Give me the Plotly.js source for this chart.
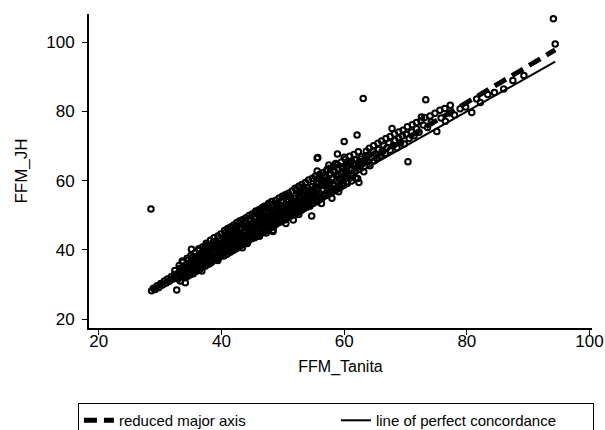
<!DOCTYPE html>
<html>
<head>
<meta charset="utf-8">
<script src="https://cdn.plot.ly/plotly-3.0.1.min.js"></script>
<style>html,body{margin:0;padding:0;background:#fff;}#chart{width:605px;height:430px;}</style>
</head>
<body>
<div id="chart"></div>
<script>
// FFM_Tanita (x) and FFM_JH (y)
const tanita = [
28.6,28.9,29.2,29.5,29.8,30.1,30.4,30.7,31.0,31.2,31.5,31.8,32.0,32.3,32.6,
32.4,32.8,33.0,33.2,33.4,33.6,33.8,34.0,34.1,34.3,34.5,34.7,34.9,35.0,35.2,35.3,35.5,35.6,35.8,35.9,33.1,34.6,35.4,32.9,34.2,35.7,33.7,35.1,34.8,33.5,
32.7,34.1,35.1,37.4,28.5,
36.0,36.1,36.2,36.3,36.5,36.6,36.7,36.9,37.0,37.1,37.3,37.4,37.5,37.7,37.8,37.9,38.0,38.2,38.3,38.4,38.5,38.7,38.8,38.9,39.0,39.2,39.3,39.4,39.5,39.7,39.8,39.9,36.4,37.6,38.6,39.1,36.8,38.1,39.6,37.2,
40.0,40.1,40.2,40.3,40.4,40.5,40.6,40.7,40.8,40.9,41.0,41.1,41.2,41.3,41.4,41.5,41.6,41.7,41.8,41.9,42.0,42.1,42.2,42.3,42.4,42.5,42.6,42.7,42.8,42.9,43.0,43.1,43.2,43.3,43.4,43.5,43.6,43.7,43.8,43.9,44.0,44.1,44.2,44.3,44.4,44.5,44.6,44.7,44.8,44.9,40.6,41.8,42.6,43.4,44.2,
45.0,45.1,45.2,45.3,45.4,45.5,45.6,45.7,45.8,45.9,46.0,46.1,46.2,46.3,46.4,46.5,46.6,46.7,46.8,46.9,47.0,47.1,47.2,47.3,47.4,47.5,47.6,47.7,47.8,47.9,48.0,48.1,48.2,48.3,48.4,48.5,48.6,48.7,48.8,48.9,49.0,49.1,49.2,49.3,49.4,49.5,49.6,49.7,49.8,49.9,45.5,46.8,47.6,48.4,49.2,48.4,46.2,47.3,
50.0,50.1,50.2,50.3,50.4,50.5,50.6,50.7,50.8,50.9,51.0,51.1,51.2,51.3,51.4,51.5,51.6,51.7,51.8,51.9,52.0,52.1,52.2,52.3,52.4,52.5,52.6,52.7,52.8,52.9,53.0,53.1,53.2,53.3,53.4,53.5,53.6,53.7,53.8,53.9,54.0,54.1,54.2,54.3,54.4,54.5,54.6,54.7,54.8,54.9,51.0,52.2,53.4,50.5,52.6,
55.0,55.1,55.3,55.4,55.6,55.7,55.6,55.6,55.7,55.8,55.9,56.1,56.2,56.4,56.5,56.7,56.8,57.0,57.1,57.3,57.4,57.5,57.6,57.8,57.9,58.1,58.2,58.4,58.5,58.7,58.9,58.8,59.0,59.2,59.3,59.5,59.6,59.8,59.9,56.0,57.2,58.0,59.1,56.3,58.6,
60.0,60.0,60.1,60.3,60.4,60.6,60.8,61.0,61.1,61.3,61.5,61.7,61.8,62.0,62.1,62.2,62.4,62.4,62.6,62.8,63.0,63.1,63.2,63.4,63.6,63.8,64.0,64.2,64.4,64.7,64.9,
65.1,65.3,65.6,65.9,66.2,66.4,66.7,67.0,67.3,67.5,67.8,68.0,68.3,68.6,68.9,69.2,69.5,69.8,70.1,70.4,70.6,71.0,71.4,71.8,72.2,72.6,72.9,73.3,73.6,74.2,75.1,
75.8,76.5,77.2,78.0,78.9,79.8,80.8,81.6,82.2,83.4,84.5,86.0,87.5,89.3,94.1,94.4,
33.3,33.9,34.4,34.9,35.4,35.9,36.4,36.9,37.4,37.9,38.4,38.9,39.4,39.9,
33.6,34.4,35.0,35.7,36.3,36.9,37.5,38.2,38.8,39.4,39.9,
33.9,34.4,35.0,35.5,36.0,36.5,37.0,37.5,38.0,38.5,39.0,39.5,
40.4,40.9,41.4,41.9,42.4,42.9,43.4,43.9,44.4,44.9,45.4,45.9,46.4,46.9,47.4,47.9,48.4,48.9,49.4,49.9,
40.5,41.0,41.5,42.0,42.5,43.0,43.5,44.0,44.5,45.0,45.6,46.1,46.6,47.1,47.7,48.2,48.8,49.4,49.9,
40.3,41.0,41.7,42.4,43.1,43.8,44.6,45.3,46.0,46.8,47.5,48.2,49.0,49.7,
50.4,50.9,51.4,51.9,52.4,52.9,53.4,53.9,54.4,54.9,55.4,55.9,56.4,56.9,57.4,57.9,58.4,58.9,59.4,59.9,60.5,61.2,61.9,
50.4,50.9,51.5,52.0,52.6,53.1,53.7,54.2,54.8,55.3,55.9,56.5,57.1,57.7,58.3,58.9,59.5,60.2,60.9,61.6,62.3,
50.6,51.3,52.0,52.7,53.4,54.1,54.8,55.5,56.2,56.9,57.6,58.3,59.0,59.7,60.5,61.2,61.9,62.7,63.5,
64.1,64.8,65.5,66.1,66.8,67.5,68.2,68.9,69.6,70.3,71.1,71.8,72.5,73.1,74.0,74.8,75.6,76.4,77.3
];
const jh = [
28.2,28.9,28.5,29.6,29.1,30.3,29.8,31.0,30.4,31.6,30.9,32.2,31.5,32.9,31.8,
34.0,33.1,32.3,34.6,33.5,32.8,35.2,34.1,33.2,35.8,34.6,33.6,36.1,35.0,34.0,36.9,35.6,34.4,37.5,36.2,35.5,37.0,38.1,31.6,32.4,33.9,36.4,37.6,35.4,34.3,
28.4,30.5,40.2,40.9,51.8,
35.1,37.0,38.4,36.2,34.9,37.8,39.0,36.6,38.2,35.8,37.4,39.5,36.5,38.7,40.1,37.2,35.9,39.3,37.9,40.6,36.8,38.5,41.0,37.6,39.8,38.1,40.9,36.9,39.2,41.5,38.6,40.3,39.9,41.3,42.1,42.4,33.9,36.3,37.7,38.9,
39.4,41.8,40.5,38.9,42.6,41.1,39.7,43.3,40.2,42.0,41.3,39.9,43.9,42.5,40.8,44.4,41.9,40.4,43.1,42.2,44.8,41.5,43.6,40.9,42.8,45.3,43.9,41.7,44.5,43.0,45.8,42.4,44.1,46.4,43.4,41.9,45.0,44.0,46.9,42.9,45.5,47.7,44.3,43.1,46.2,45.0,47.4,43.8,46.5,45.3,44.9,45.6,47.1,40.6,41.8,
46.8,44.5,48.1,46.0,44.0,47.4,49.0,45.6,47.9,46.5,44.9,48.6,47.2,49.6,46.1,48.0,45.4,50.1,47.5,48.8,46.3,49.4,47.9,51.0,46.8,49.0,48.1,50.5,47.0,49.8,48.6,51.4,47.4,50.1,49.0,46.6,51.9,48.5,50.6,49.5,47.8,52.3,50.0,48.9,51.3,50.4,48.2,52.8,49.7,51.5,50.8,52.4,53.0,45.7,53.5,45.3,43.9,44.9,
51.1,49.2,52.6,50.5,48.7,53.1,51.8,49.9,52.2,54.0,50.7,52.9,51.4,49.8,54.5,52.0,50.6,48.6,53.6,51.7,55.0,52.5,50.9,54.1,53.0,51.3,55.6,53.5,52.0,54.8,53.2,51.6,56.1,54.0,52.4,55.3,53.7,57.0,54.5,52.8,55.8,54.2,56.6,53.1,55.0,57.3,54.0,49.8,56.2,55.1,55.6,57.2,58.1,47.6,50.2,
56.9,54.6,58.0,55.8,53.9,57.4,66.5,62.8,66.7,59.1,56.3,58.5,55.2,60.0,57.6,59.4,55.9,61.0,58.3,60.3,56.8,64.5,59.6,62.0,57.7,60.8,59.0,62.6,57.1,61.4,67.7,59.9,63.3,60.4,58.3,62.1,60.9,64.0,58.9,61.8,63.2,54.9,56.8,53.4,65.0,
71.3,66.8,61.5,63.6,59.7,62.4,65.2,60.8,63.0,61.9,64.8,62.7,66.0,63.7,73.2,60.6,59.5,65.3,64.1,67.0,64.9,83.8,62.6,66.2,68.5,65.5,67.4,64.3,66.7,68.6,65.8,
67.8,66.4,69.0,67.3,68.5,70.3,67.9,69.6,70.9,68.8,75.1,70.2,71.6,69.5,72.3,71.0,72.9,70.6,73.4,65.5,72.2,74.1,73.0,75.0,74.0,78.4,76.1,83.4,75.4,77.0,74.2,
78.1,77.2,79.6,79.0,80.8,81.3,79.7,83.6,82.6,84.9,85.5,86.5,89.0,90.4,106.8,99.5,
31.0,31.9,32.3,32.8,33.1,33.8,34.2,35.0,35.3,36.1,36.4,37.2,37.6,38.3,
36.8,37.6,38.4,39.1,40.3,40.8,41.9,42.8,43.5,44.0,44.6,
34.8,35.3,36.3,37.0,37.6,38.0,39.6,40.4,39.0,41.4,40.6,41.9,
38.2,38.7,39.3,39.8,40.3,41.0,41.5,42.1,42.6,43.2,43.5,44.1,44.7,45.3,45.6,46.3,46.8,47.4,47.9,48.4,
45.6,46.2,46.6,47.2,47.9,48.4,48.8,49.3,49.9,50.4,51.2,51.6,52.1,52.7,53.5,54.0,54.3,55.0,55.5,
43.7,44.6,45.1,46.3,47.3,48.0,48.5,49.4,50.4,51.1,51.9,52.8,53.2,54.1,
48.9,49.4,50.0,50.2,50.8,51.3,51.9,52.3,52.6,53.4,54.0,54.4,55.0,55.6,56.0,56.5,57.2,57.6,58.1,58.6,59.2,59.9,60.8,
55.9,56.4,57.0,57.8,58.4,58.9,59.5,60.2,60.7,61.3,61.0,62.3,62.7,63.6,64.1,64.6,65.3,66.2,67.1,67.6,68.4,
54.3,55.0,53.7,56.6,57.0,57.9,58.3,59.4,60.6,60.1,61.7,62.9,61.9,63.5,64.3,65.6,64.7,66.3,67.2,
69.4,70.1,70.8,71.5,72.2,72.8,73.5,74.1,74.6,75.6,76.2,76.8,77.3,78.3,78.7,79.5,80.4,80.9,81.8
];
// fitted lines (end points over the data range)
const lineX = [28.5, 94.4];
const rmaY = [28.3, 97.8];
const concordY = [28.5, 94.4];
const xTicks = [20, 40, 60, 80, 100];
const yTicks = [20, 40, 60, 80, 100];

const font = {family: '"Liberation Sans", Arial, sans-serif', color: '#000'};

const traces = [
  {x: tanita, y: jh, type: 'scatter', mode: 'markers', showlegend: false,
   marker: {symbol: 'circle-open', size: 5.5, color: '#000', line: {width: 2, color: '#000'}}},
  {x: lineX, y: rmaY, type: 'scatter', mode: 'lines', name: 'reduced major axis',
   line: {color: '#000', width: 5, dash: '13px,7px'}},
  {x: lineX, y: concordY, type: 'scatter', mode: 'lines', name: 'line of perfect concordance',
   line: {color: '#000', width: 2}}
];

const layout = {
  width: 605, height: 430,
  margin: {l: 89, r: 13, t: 14, b: 102, autoexpand: false},
  paper_bgcolor: '#fff', plot_bgcolor: '#fff',
  font: Object.assign({size: 16}, font),
  showlegend: true,
  xaxis: {
    range: [18.4, 100.4], tickvals: xTicks, ticktext: xTicks.map(String),
    showgrid: false, zeroline: false, showline: true, linecolor: '#000', linewidth: 2,
    ticks: 'outside', ticklen: 5, tickcolor: '#000', tickwidth: 1, ticklabelstandoff: -8,
    tickfont: Object.assign({size: 17}, font), automargin: false,
    title: {text: 'FFM_Tanita', font: Object.assign({size: 16}, font), standoff: 10}
  },
  yaxis: {
    range: [17.4, 108.2], tickvals: yTicks, ticktext: yTicks.map(String),
    showgrid: false, zeroline: false, showline: true, linecolor: '#000', linewidth: 2,
    ticks: 'outside', ticklen: 5, tickcolor: '#000', tickwidth: 1, ticklabelstandoff: 4,
    tickfont: Object.assign({size: 17}, font), automargin: false,
    title: {text: 'FFM_JH', font: Object.assign({size: 17}, font), standoff: 14}
  },
  legend: {
    orientation: 'h', x: -0.022, xanchor: 'left', y: -0.239, yanchor: 'top',
    bordercolor: '#000', borderwidth: 1, bgcolor: '#fff',
    font: Object.assign({size: 15}, font), entrywidth: 212, entrywidthmode: 'pixels',
    tracegroupgap: 0
  }
};

Plotly.newPlot('chart', traces, layout, {staticPlot: true, displayModeBar: false});
</script>
</body>
</html>
